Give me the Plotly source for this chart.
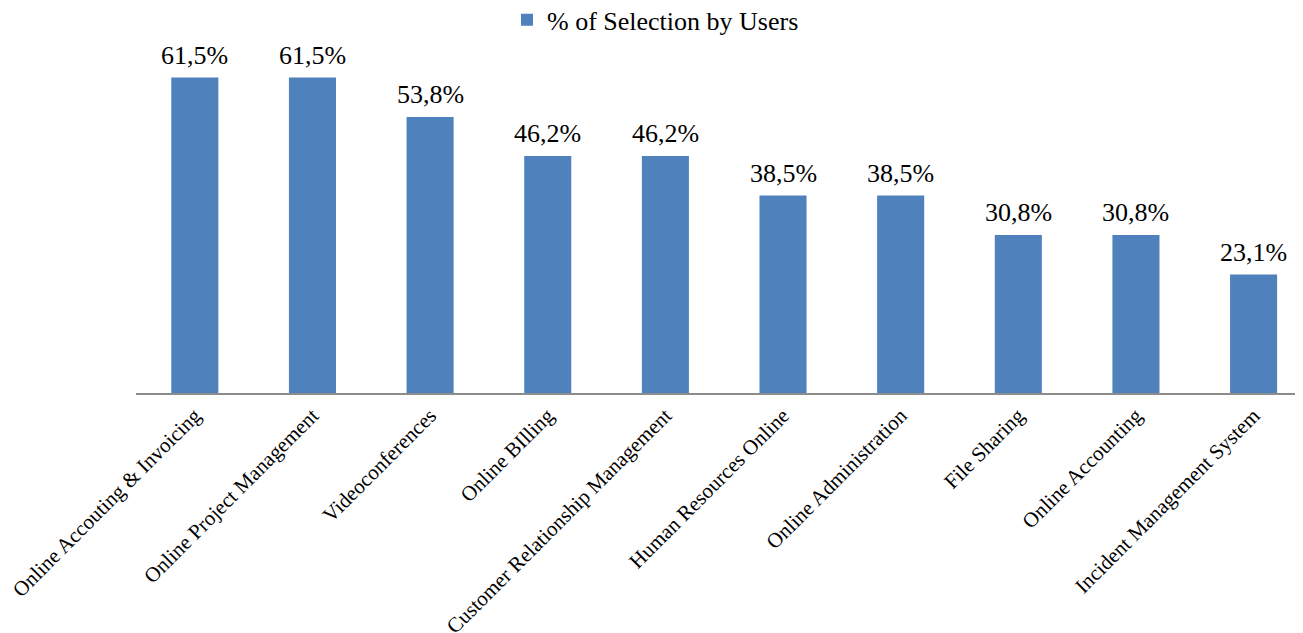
import plotly.graph_objects as go

categories = ["Online Accouting & Invoicing", "Online Project Management", "Videoconferences",
              "Online BIlling", "Customer Relationship Management", "Human Resources Online",
              "Online Administration", "File Sharing", "Online Accounting", "Incident Management System"]
values = [61.5, 61.5, 53.8, 46.2, 46.2, 38.5, 38.5, 30.8, 30.8, 23.1]
labels = [f"{v:.1f}%".replace(".", ",") for v in values]

FONT = "Liberation Serif"

fig = go.Figure()
fig.add_trace(go.Bar(
    x=categories, y=values, name="% of Selection by Users",
    marker=dict(color="#4F81BD", line=dict(width=0)),
    hoverinfo="x+y",
))
for c, v, t in zip(categories, values, labels):
    fig.add_annotation(x=c, y=v, text=t, showarrow=False, yanchor="bottom", yshift=6,
                       font=dict(family=FONT, size=26, color="black"))
fig.update_layout(
    width=1295, height=625,
    margin=dict(l=128, r=0, t=26, b=240, autoexpand=False),
    paper_bgcolor="white", plot_bgcolor="white",
    bargap=0.6,
    showlegend=True,
    legend=dict(orientation="h", x=0.5, xanchor="center", xref="container",
                y=0.981, yanchor="middle", yref="container",
                font=dict(family=FONT, size=26, color="black"),
                itemwidth=30, tracegroupgap=0),
    xaxis=dict(range=[-0.5, 9.42], tickangle=-45, showline=True, linecolor="#8C8C8C", linewidth=2,
               ticks="", tickfont=dict(family=FONT, size=21, color="black"), showgrid=False,
               automargin=False),
    yaxis=dict(range=[0, 70], visible=False, showgrid=False, zeroline=False, automargin=False),
    font=dict(family=FONT),
)
fig.write_html("out.html")
